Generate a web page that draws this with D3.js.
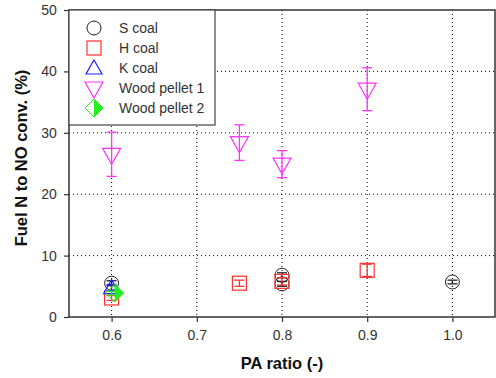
<!DOCTYPE html>
<html><head><meta charset="utf-8">
<script src="https://cdn.jsdelivr.net/npm/d3@7"></script>
<style>body{margin:0;background:#fff}svg{display:block}</style>
</head><body><svg id="c" width="496" height="378"></svg>
<script>
const xTicks=[0.6,0.7,0.8,0.9,1.0];
const yTicks=[0,10,20,30,40,50];
const sCoal=[{x:0.6,y:5.5,e:0.4},{x:0.8,y:6.8,e:0.4},{x:0.8,y:5.4,e:0.4},{x:1.0,y:5.7,e:0.3}];
const hCoal=[{x:0.6,y:3.1,e:0.4},{x:0.75,y:5.5,e:0.5},{x:0.8,y:5.8,e:0.6},{x:0.9,y:7.6,e:1.0}];
const kCoal=[{x:0.6,y:4.8,e:0.5}];
const wood1=[{x:0.6,y:26.5,e:3.6},{x:0.75,y:28.4,e:2.9},{x:0.8,y:24.9,e:2.2},{x:0.9,y:37.1,e:3.5}];
const wood2=[{x:0.6,y:3.9,e:0.3}];
const legendLabels=["S coal","H coal","K coal","Wood pellet 1","Wood pellet 2"];

const svg=d3.select("#c");
const m={l:69,t:10,r:495,b:317};
const x=d3.scaleLinear().domain([0.55,1.05]).range([m.l,m.r]);
const y=d3.scaleLinear().domain([0,50]).range([m.b,m.t]);
const font="Arial, 'Liberation Sans', sans-serif";

// grid
const g=svg.append("g");
g.selectAll(".vx").data(xTicks).join("line").attr("x1",d=>x(d)).attr("x2",d=>x(d)).attr("y1",m.t).attr("y2",m.b)
 .attr("stroke","#000").attr("stroke-width",1).attr("stroke-dasharray","1,3");
g.selectAll(".hy").data(yTicks.filter(d=>d>0&&d<50)).join("line").attr("y1",d=>y(d)).attr("y2",d=>y(d)).attr("x1",m.l).attr("x2",m.r)
 .attr("stroke","#000").attr("stroke-width",1).attr("stroke-dasharray","1,3");

// axes
const xa=svg.append("g").attr("transform",`translate(0,${m.b})`).call(d3.axisBottom(x).tickValues(xTicks).tickFormat(d3.format(".1f")).tickSize(5).tickSizeOuter(0));
const ya=svg.append("g").attr("transform",`translate(${m.l},0)`).call(d3.axisLeft(y).tickValues(yTicks).tickSize(5).tickSizeOuter(0));
[xa,ya].forEach(a=>{a.select(".domain").remove();a.selectAll("line").attr("stroke","#333").attr("stroke-width",1.2);
 a.selectAll("text").attr("font-family",font).attr("font-size",14).attr("fill","#333");});
xa.selectAll("text").attr("dy","1.1em");
ya.selectAll("text").attr("dx","-0.3em");
// frame
svg.append("rect").attr("x",m.l).attr("y",m.t).attr("width",m.r-m.l).attr("height",m.b-m.t)
 .attr("fill","none").attr("stroke","#333").attr("stroke-width",1.5);

// symbols
function sym(sel,type,color){
 if(type==="circle") sel.append("circle").attr("r",7).attr("fill","none").attr("stroke",color).attr("stroke-width",1);
 else if(type==="square") sel.append("rect").attr("x",-7).attr("y",-7).attr("width",14).attr("height",14).attr("fill","none").attr("stroke",color).attr("stroke-width",1.2);
 else if(type==="up") sel.append("path").attr("d","M0,-8L8,6L-8,6Z").attr("fill","none").attr("stroke",color).attr("stroke-width",1.2);
 else if(type==="down") sel.append("path").attr("d","M-9,-6L9,-6L0,10Z").attr("fill","none").attr("stroke",color).attr("stroke-width",1.2);
 else if(type==="diamond"){
  sel.append("path").attr("d","M0,-9L0,9L9,0Z").attr("fill",color);
  sel.append("path").attr("d","M0,-9L9,0L0,9L-9,0Z").attr("fill","none").attr("stroke",color).attr("stroke-width",1);
 }
}
function errs(data,color){
 const eg=svg.append("g").attr("stroke",color).attr("stroke-width",1.3);
 data.forEach(d=>{
  eg.append("line").attr("x1",x(d.x)).attr("x2",x(d.x)).attr("y1",y(d.y-d.e)).attr("y2",y(d.y+d.e));
  [d.y-d.e,d.y+d.e].forEach(v=>eg.append("line").attr("x1",x(d.x)-5).attr("x2",x(d.x)+5).attr("y1",y(v)).attr("y2",y(v)));
 });
}
const series=[[sCoal,"circle","#222"],[hCoal,"square","#ff3030"],[kCoal,"up","#2020ff"],[wood1,"down","#ff33ff"],[wood2,"diamond","#22ee22"]];
series.forEach(([data,type,color])=>{
 errs(data,color);
 data.forEach(d=>{const s=svg.append("g").attr("transform",`translate(${x(d.x)+(type==="diamond"?3:0)},${y(d.y)})`);sym(s,type,color);});
});

// legend
const lg=svg.append("g");
lg.append("rect").attr("x",m.l).attr("y",m.t).attr("width",146).attr("height",115).attr("fill","#fff").attr("stroke","#444").attr("stroke-width",1.2);
legendLabels.forEach((t,i)=>{
 const cy=28+i*20;
 const s=lg.append("g").attr("transform",`translate(94,${cy})`);
 sym(s,series[i][1],series[i][2]);
 lg.append("text").attr("x",119).attr("y",cy+5).attr("font-family",font).attr("font-size",14).attr("fill","#333").text(t);
});

// axis titles
svg.append("text").attr("x",282).attr("y",369).attr("text-anchor","middle").attr("font-family",font).attr("font-size",16.5).attr("font-weight","bold").attr("fill","#111").text("PA ratio (-)");
svg.append("text").attr("transform",`translate(27,158) rotate(-90)`).attr("text-anchor","middle").attr("font-family",font).attr("font-size",16.5).attr("font-weight","bold").attr("fill","#111").text("Fuel N to NO conv. (%)");
</script></body></html>
